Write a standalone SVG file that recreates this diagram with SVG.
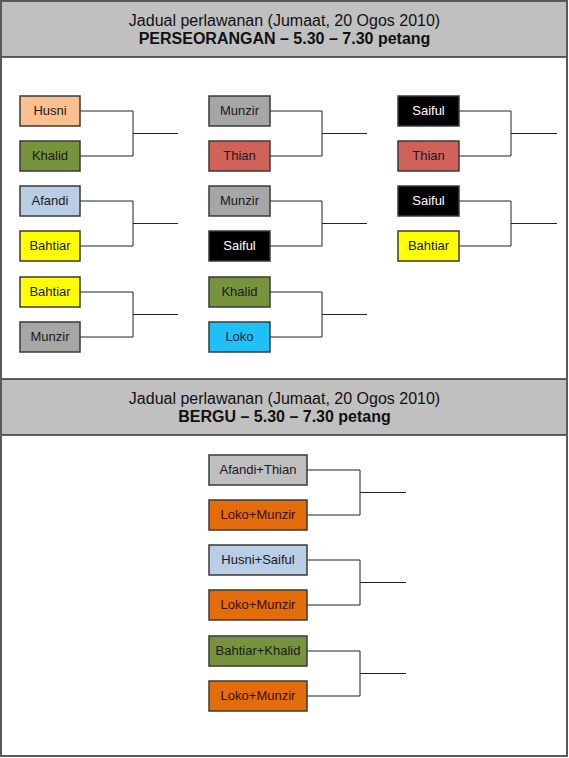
<svg xmlns="http://www.w3.org/2000/svg" width="569" height="758" viewBox="0 0 569 758">
<style>
text{font-family:"Liberation Sans",Arial,sans-serif}
.hdr{fill:#c0c0c0;stroke:#333;stroke-width:1.5}
.t1{font-size:16px;fill:#111;text-anchor:middle}
.t2{font-size:16px;font-weight:bold;fill:#111;text-anchor:middle}
.box{stroke:#3a3a3a;stroke-width:1.5}
.lbl{font-size:13px;fill:#1a1a1a;text-anchor:middle}
.conn{fill:none;stroke:#222;stroke-width:1}
</style>
<rect x="0" y="0" width="569" height="758" fill="#fff"/>
<g id="header1">
<rect class="hdr" x="1" y="1" width="566" height="56"/>
<text class="t1" x="284.5" y="25.5">Jadual perlawanan (Jumaat, 20 Ogos 2010)</text>
<text class="t2" x="284.5" y="43.5">PERSEORANGAN – 5.30 – 7.30 petang</text>
</g>
<g id="header2">
<rect class="hdr" x="1" y="379" width="566" height="56"/>
<text class="t1" x="284.5" y="403.5">Jadual perlawanan (Jumaat, 20 Ogos 2010)</text>
<text class="t2" x="284.5" y="421.5">BERGU – 5.30 – 7.30 petang</text>
</g>
<rect x="1" y="1" width="566" height="755" fill="none" stroke="#5a5a5a" stroke-width="2"/>
<g id="connectors">
<path class="conn" d="M80,111H133V156H80M133,133.5H178"/>
<path class="conn" d="M80,201H133V246H80M133,223.5H178"/>
<path class="conn" d="M80,292H133V337H80M133,314.5H178"/>
<path class="conn" d="M270,111H322V156H270M322,133.5H367"/>
<path class="conn" d="M270,201H322V246H270M322,223.5H367"/>
<path class="conn" d="M270,292H322V337H270M322,314.5H367"/>
<path class="conn" d="M459,111H511V156H459M511,133.5H557"/>
<path class="conn" d="M459,201H511V246H459M511,223.5H557"/>
<path class="conn" d="M307,470H360V515H307M360,492.5H406"/>
<path class="conn" d="M307,560H360V605H307M360,582.5H406"/>
<path class="conn" d="M307,651H360V696H307M360,673.5H406"/>
</g>
<g id="husni"><rect class="box" x="20" y="96" width="60" height="30" fill="#fac090"/><text class="lbl" x="50" y="114.8">Husni</text></g>
<g id="khalid1"><rect class="box" x="20" y="141" width="60" height="30" fill="#77933c"/><text class="lbl" x="50" y="159.8">Khalid</text></g>
<g id="afandi"><rect class="box" x="20" y="186" width="60" height="30" fill="#b9cde5"/><text class="lbl" x="50" y="204.8">Afandi</text></g>
<g id="bahtiar1"><rect class="box" x="20" y="231" width="60" height="30" fill="#ffff00"/><text class="lbl" x="50" y="249.8">Bahtiar</text></g>
<g id="bahtiar2"><rect class="box" x="20" y="277" width="60" height="30" fill="#ffff00"/><text class="lbl" x="50" y="295.8">Bahtiar</text></g>
<g id="munzir1"><rect class="box" x="20" y="322" width="60" height="30" fill="#a6a6a6"/><text class="lbl" x="50" y="340.8">Munzir</text></g>
<g id="munzir2"><rect class="box" x="209" y="96" width="61" height="30" fill="#a6a6a6"/><text class="lbl" x="239.5" y="114.8">Munzir</text></g>
<g id="thian1"><rect class="box" x="209" y="141" width="61" height="30" fill="#d0625a"/><text class="lbl" x="239.5" y="159.8">Thian</text></g>
<g id="munzir3"><rect class="box" x="209" y="186" width="61" height="30" fill="#a6a6a6"/><text class="lbl" x="239.5" y="204.8">Munzir</text></g>
<g id="saiful1"><rect class="box" x="209" y="231" width="61" height="30" fill="#000"/><text class="lbl" x="239.5" y="249.8" style="fill:#fff">Saiful</text></g>
<g id="khalid2"><rect class="box" x="209" y="277" width="61" height="30" fill="#77933c"/><text class="lbl" x="239.5" y="295.8">Khalid</text></g>
<g id="loko"><rect class="box" x="209" y="322" width="61" height="30" fill="#1ec0f5"/><text class="lbl" x="239.5" y="340.8" style="fill:#10204a">Loko</text></g>
<g id="saiful2"><rect class="box" x="398" y="96" width="61" height="30" fill="#000"/><text class="lbl" x="428.5" y="114.8" style="fill:#fff">Saiful</text></g>
<g id="thian2"><rect class="box" x="398" y="141" width="61" height="30" fill="#d0625a"/><text class="lbl" x="428.5" y="159.8">Thian</text></g>
<g id="saiful3"><rect class="box" x="398" y="186" width="61" height="30" fill="#000"/><text class="lbl" x="428.5" y="204.8" style="fill:#fff">Saiful</text></g>
<g id="bahtiar3"><rect class="box" x="398" y="231" width="61" height="30" fill="#ffff00"/><text class="lbl" x="428.5" y="249.8">Bahtiar</text></g>
<g id="afandi-thian"><rect class="box" x="209" y="455" width="98" height="30" fill="#bfbfbf"/><text class="lbl" x="258" y="473.8">Afandi+Thian</text></g>
<g id="loko-munzir1"><rect class="box" x="209" y="500" width="98" height="30" fill="#e46c0a"/><text class="lbl" x="258" y="518.8" style="fill:#3a0c00">Loko+Munzir</text></g>
<g id="husni-saiful"><rect class="box" x="209" y="545" width="98" height="30" fill="#b9cde5"/><text class="lbl" x="258" y="563.8">Husni+Saiful</text></g>
<g id="loko-munzir2"><rect class="box" x="209" y="590" width="98" height="30" fill="#e46c0a"/><text class="lbl" x="258" y="608.8" style="fill:#3a0c00">Loko+Munzir</text></g>
<g id="bahtiar-khalid"><rect class="box" x="209" y="636" width="98" height="30" fill="#77933c"/><text class="lbl" x="258" y="654.8">Bahtiar+Khalid</text></g>
<g id="loko-munzir3"><rect class="box" x="209" y="681" width="98" height="30" fill="#e46c0a"/><text class="lbl" x="258" y="699.8" style="fill:#3a0c00">Loko+Munzir</text></g>
</svg>
